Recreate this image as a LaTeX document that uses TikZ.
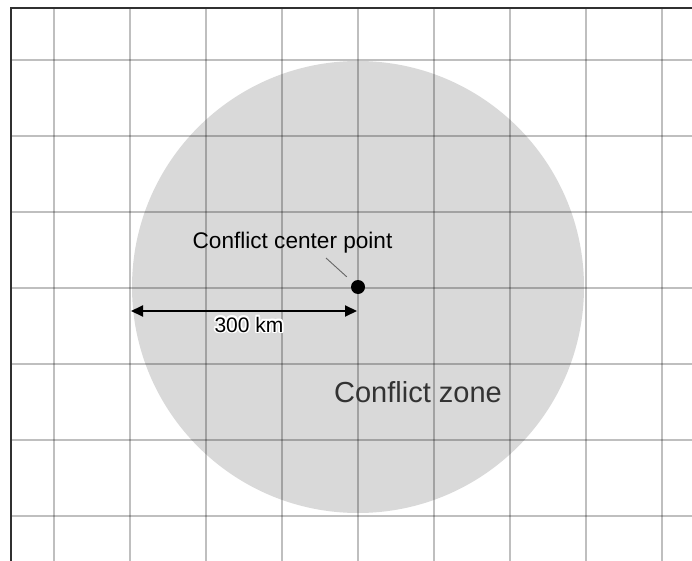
\documentclass[tikz,border=0pt]{standalone}
\usepackage{fontspec}
\setmainfont{Liberation Sans}
\usetikzlibrary{arrows.meta,positioning}
\definecolor{Zone}{HTML}{D9D9D9}
\definecolor{Frame}{HTML}{303030}
\definecolor{Ink}{HTML}{333333}
\tikzset{
  gridline/.style={black,opacity=0.25,line width=1.4pt},
  frameline/.style={Frame,line width=2.6pt},
  radiusarrow/.style={{Triangle[length=12pt,width=11pt]}-{Triangle[length=12pt,width=11pt]},line width=2pt},
  leader/.style={black!60,line width=0.9pt,shorten >=8pt},
  smalltext/.style={font=\fontsize{21}{25}\selectfont,inner sep=0pt,anchor=base}
}

\begin{document}
\begin{tikzpicture}[x=1pt,y=-1pt]
\useasboundingbox (0,0) rectangle (692,561);
\fill[white] (0,0) rectangle (692,561);

% Zone disc, grid on top of it.
\fill[Zone] (358,287) circle (226);
\foreach \x in {54,130,...,662} {\draw[gridline] (\x,9)--(\x,561);}
\foreach \y in {60,136,...,516} {\draw[gridline] (12,\y)--(692,\y);}
\draw[frameline] (11,561)--(11,8)--(692,8);

% Centre point and its label.
\node[circle,fill=black,inner sep=0pt,minimum size=14pt] (centre) at (358,287) {};
\node[smalltext,font=\fontsize{22.6}{27}\selectfont] (centrelabel) at (292.5,248) {Conflict center point};
\coordinate (leadstart) at (326,258);
\draw[leader] (leadstart)--(centre);

% Radius.
\coordinate (zoneedge) at (131,311);
\coordinate (radiusend) at (357,311);
\draw[radiusarrow] (zoneedge)--(radiusend);
\foreach \a in {0,45,...,315}
  {\node[smalltext,text=white,shift={(\a:1.8)}] at (249,332) {300 km};}
\node[smalltext] (radiuslabel) at (249,332) {300 km};

\node[font=\fontsize{29}{34}\selectfont,text=Ink,inner sep=0pt,anchor=base]
  (zonelabel) at (418,402) {Conflict zone};
\end{tikzpicture}
\end{document}
